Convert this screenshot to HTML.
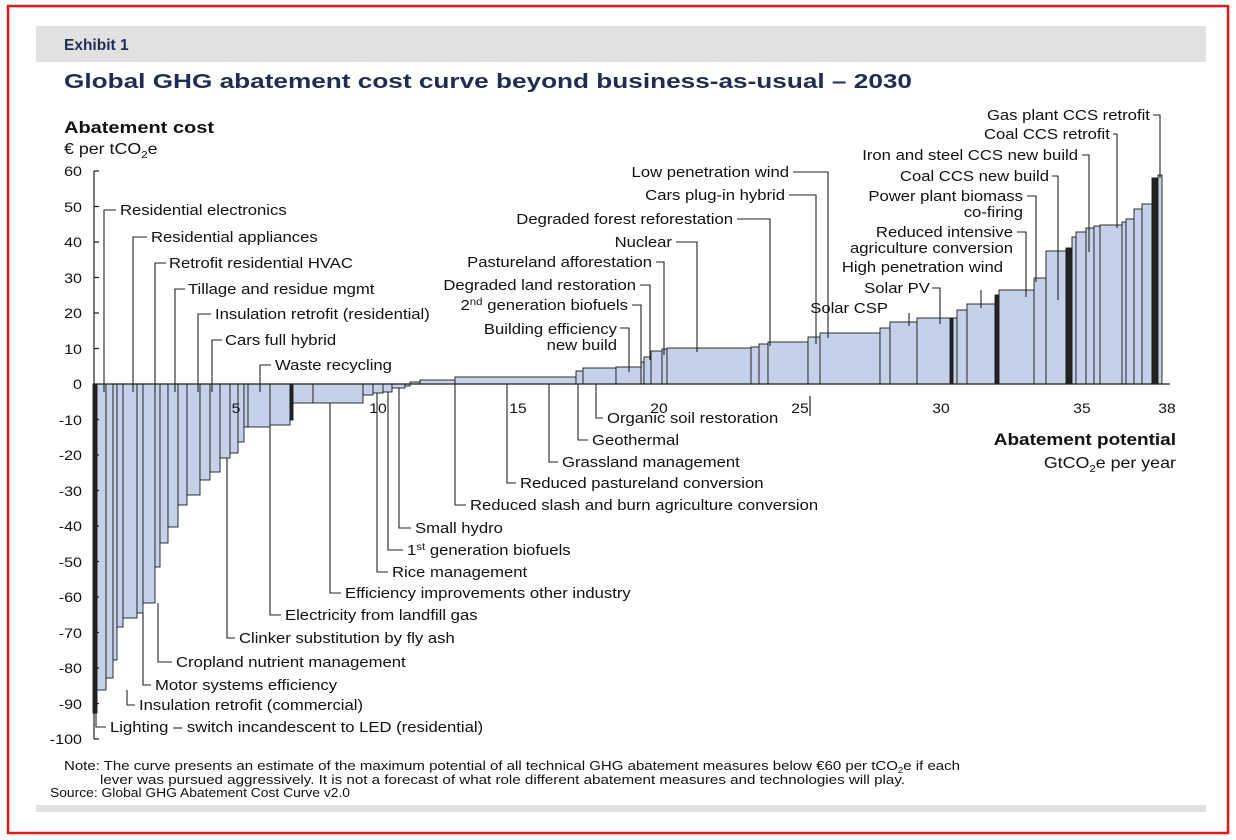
<!DOCTYPE html>
<html><head><meta charset="utf-8"><style>
html,body{margin:0;padding:0;background:#fff;}
svg{display:block;font-family:"Liberation Sans",Arial,sans-serif;}
.s text,text.s{transform-box:fill-box;transform-origin:0 50%;transform:scaleX(1.15);}
.e text,text.e{transform-box:fill-box;transform-origin:100% 50%;transform:scaleX(1.15);}
.m text{transform-box:fill-box;transform-origin:50% 50%;transform:scaleX(1.12);}
</style></head><body>
<svg width="1236" height="840" viewBox="0 0 1236 840" xmlns="http://www.w3.org/2000/svg">
<rect x="8" y="6" width="1220" height="827" fill="#fff" stroke="#d91c1c" stroke-width="2.5"/>
<rect x="36" y="26" width="1170" height="36" fill="#e1e1e1"/>
<text x="64" y="50" font-size="15.5" font-weight="bold" fill="#1f2d55">Exhibit 1</text>
<text x="64" y="88" font-size="20.5" font-weight="bold" fill="#1f2d55" textLength="848" lengthAdjust="spacingAndGlyphs">Global GHG abatement cost curve beyond business-as-usual – 2030</text>
<rect x="36" y="805" width="1170" height="7" fill="#e1e1e1"/>

<text x="64" y="133" font-size="16.5" font-weight="bold" fill="#111" textLength="150" lengthAdjust="spacingAndGlyphs">Abatement cost</text>
<text x="64" y="154" font-size="15.5" fill="#111" class="s">€ per tCO<tspan font-size="10" dy="4">2</tspan><tspan dy="-4">e</tspan></text>

<g fill="#c5d1e8" stroke="#1a1a1a" stroke-width="0.9">
<rect x="93" y="384" width="4" height="329" fill="#222"/>
<rect x="97" y="384" width="9" height="306"/>
<rect x="106" y="384" width="7" height="294"/>
<rect x="113" y="384" width="4" height="276"/>
<rect x="117" y="384" width="6" height="243"/>
<rect x="123" y="384" width="14" height="234"/>
<rect x="137" y="384" width="6" height="229"/>
<rect x="143" y="384" width="12" height="219"/>
<rect x="155" y="384" width="5" height="183"/>
<rect x="160" y="384" width="8" height="159"/>
<rect x="168" y="384" width="10" height="143"/>
<rect x="178" y="384" width="9" height="121"/>
<rect x="187" y="384" width="13" height="111"/>
<rect x="200" y="384" width="10" height="96"/>
<rect x="210" y="384" width="10" height="88"/>
<rect x="220" y="384" width="10" height="74"/>
<rect x="230" y="384" width="8" height="69"/>
<rect x="238" y="384" width="6" height="58"/>
<rect x="244" y="384" width="4" height="43"/>
<rect x="248" y="384" width="22" height="43"/>
<rect x="270" y="384" width="20" height="41"/>
<rect x="290" y="384" width="3" height="36" fill="#222"/>
<rect x="293" y="384" width="20" height="19"/>
<rect x="313" y="384" width="50" height="19"/>
<rect x="363" y="384" width="10" height="11"/>
<rect x="373" y="384" width="10" height="9"/>
<rect x="383" y="384" width="9" height="8"/>
<rect x="392" y="384" width="13" height="4"/>
<rect x="405" y="384" width="5" height="2"/>
<rect x="410" y="382" width="10" height="2"/>
<rect x="420" y="380" width="35" height="4"/>
<rect x="455" y="377" width="121" height="7"/>
<rect x="576" y="371" width="7" height="13"/>
<rect x="583" y="368" width="33" height="16"/>
<rect x="616" y="367" width="25" height="17"/>
<rect x="641" y="362" width="3" height="22"/>
<rect x="644" y="357" width="7" height="27"/>
<rect x="651" y="351" width="11" height="33"/>
<rect x="662" y="349" width="5" height="35"/>
<rect x="667" y="348" width="84" height="36"/>
<rect x="751" y="347" width="8" height="37"/>
<rect x="759" y="344" width="9" height="40"/>
<rect x="768" y="342" width="40" height="42"/>
<rect x="808" y="337" width="12" height="47"/>
<rect x="820" y="333" width="60" height="51"/>
<rect x="880" y="328" width="10" height="56"/>
<rect x="890" y="322" width="27" height="62"/>
<rect x="917" y="318" width="40" height="66"/>
<rect x="950" y="318" width="3" height="66" fill="#222"/>
<rect x="957" y="310" width="10" height="74"/>
<rect x="967" y="304" width="28" height="80"/>
<rect x="995" y="295" width="4" height="89" fill="#222"/>
<rect x="999" y="290" width="35" height="94"/>
<rect x="1034" y="278" width="12" height="106"/>
<rect x="1046" y="251" width="20" height="133"/>
<rect x="1066" y="248" width="6" height="136" fill="#222"/>
<rect x="1072" y="237" width="4" height="147"/>
<rect x="1076" y="232" width="10" height="152"/>
<rect x="1086" y="228" width="8" height="156"/>
<rect x="1094" y="226" width="6" height="158"/>
<rect x="1100" y="225" width="22" height="159"/>
<rect x="1122" y="222" width="4" height="162"/>
<rect x="1126" y="219" width="8" height="165"/>
<rect x="1134" y="209" width="8" height="175"/>
<rect x="1142" y="204" width="10" height="180"/>
<rect x="1152" y="178" width="6" height="206" fill="#222"/>
<rect x="1158" y="175" width="4" height="209"/>
</g>

<g stroke="#222" stroke-width="1.2" fill="none">
<line x1="94" y1="171" x2="94" y2="739"/>
<line x1="94" y1="384" x2="1170" y2="384"/>
<path d="M94 171h5M94 206.5h5M94 242h5M94 277.5h5M94 313h5M94 348.5h5M94 419.5h5M94 455h5M94 490.5h5M94 526h5M94 561.5h5M94 597h5M94 632.5h5M94 668h5M94 703.5h5M94 739h5"/>
<path d="M810 396v20"/>
</g>
<g font-size="14" fill="#111" text-anchor="end" class="e">
<text x="82" y="176">60</text><text x="82" y="212">50</text><text x="82" y="247">40</text>
<text x="82" y="283">30</text><text x="82" y="318">20</text><text x="82" y="354">10</text>
<text x="82" y="389">0</text><text x="82" y="425">-10</text><text x="82" y="460">-20</text>
<text x="82" y="496">-30</text><text x="82" y="531">-40</text><text x="82" y="567">-50</text>
<text x="82" y="602">-60</text><text x="82" y="638">-70</text><text x="82" y="673">-80</text>
<text x="82" y="709">-90</text><text x="82" y="744">-100</text>
</g>
<g font-size="14" fill="#111" text-anchor="middle" class="m">
<text x="236" y="413">5</text><text x="378" y="413">10</text><text x="518" y="413">15</text>
<text x="659" y="413">20</text><text x="800" y="413">25</text><text x="941" y="413">30</text>
<text x="1082" y="413">35</text><text x="1167" y="413">38</text>
</g>
<text x="1176" y="445" font-size="16.5" font-weight="bold" fill="#111" text-anchor="end" class="e">Abatement potential</text>
<text x="1176" y="468" font-size="15.5" fill="#111" text-anchor="end" class="e">GtCO<tspan font-size="10" dy="4">2</tspan><tspan dy="-4">e per year</tspan></text>

<g stroke="#222" stroke-width="1.1" fill="none">
<path d="M116 210H104V392"/>
<path d="M147 237H133V392"/>
<path d="M166 263H155V392"/>
<path d="M185 289H175V392"/>
<path d="M211 314H198V392"/>
<path d="M222 340H212V392"/>
<path d="M271 365H260V392"/>
<path d="M106 727H96V713"/>
<path d="M135 705H127V690"/>
<path d="M151 685H143V613"/>
<path d="M172 662H158V603"/>
<path d="M235 638H227V458"/>
<path d="M281 615H270V427"/>
<path d="M341 593H330V403"/>
<path d="M388 572H377V393"/>
<path d="M403 550H388V392"/>
<path d="M411 528H399V388"/>
<path d="M466 505H455V384"/>
<path d="M516 483H507V384"/>
<path d="M558 462H549V384"/>
<path d="M588 440H578V384"/>
<path d="M603 418H596V384"/>
<path d="M620 328H629V372"/>
<path d="M632 305H641V368"/>
<path d="M640 285H650V360"/>
<path d="M656 262H664V355"/>
<path d="M676 242H697V352"/>
<path d="M737 219H770V346"/>
<path d="M789 195H816V344"/>
<path d="M793 172H828V338"/>
<path d="M909 313V326"/>
<path d="M932 288H940V324"/>
<path d="M981 290V308"/>
<path d="M1017 232H1026V297"/>
<path d="M1027 196H1036V282"/>
<path d="M1052 176H1058V300"/>
<path d="M1082 155H1089V252"/>
<path d="M1113 134H1117V228"/>
<path d="M1153 115H1160V178"/>
</g>
<g font-size="14.5" fill="#111" class="s">
<text x="120" y="215">Residential electronics</text>
<text x="151" y="242">Residential appliances</text>
<text x="169" y="268">Retrofit residential HVAC</text>
<text x="188" y="294">Tillage and residue mgmt</text>
<text x="215" y="319">Insulation retrofit (residential)</text>
<text x="225" y="345">Cars full hybrid</text>
<text x="275" y="370">Waste recycling</text>
<text x="110" y="732">Lighting – switch incandescent to LED (residential)</text>
<text x="139" y="710">Insulation retrofit (commercial)</text>
<text x="155" y="690">Motor systems efficiency</text>
<text x="176" y="667">Cropland nutrient management</text>
<text x="239" y="643">Clinker substitution by fly ash</text>
<text x="285" y="620">Electricity from landfill gas</text>
<text x="345" y="598">Efficiency improvements other industry</text>
<text x="392" y="577">Rice management</text>
<text x="407" y="555">1<tspan font-size="10" dy="-5">st</tspan><tspan dy="5"> generation biofuels</tspan></text>
<text x="415" y="533">Small hydro</text>
<text x="470" y="510">Reduced slash and burn agriculture conversion</text>
<text x="520" y="488">Reduced pastureland conversion</text>
<text x="562" y="467">Grassland management</text>
<text x="592" y="445">Geothermal</text>
<text x="607" y="423">Organic soil restoration</text>
</g>
<g font-size="14.5" fill="#111" text-anchor="end" class="e">
<text x="617" y="334">Building efficiency</text>
<text x="617" y="350">new build</text>
<text x="628" y="310">2<tspan font-size="10" dy="-5">nd</tspan><tspan dy="5"> generation biofuels</tspan></text>
<text x="636" y="290">Degraded land restoration</text>
<text x="652" y="267">Pastureland afforestation</text>
<text x="672" y="247">Nuclear</text>
<text x="733" y="224">Degraded forest reforestation</text>
<text x="785" y="200">Cars plug-in hybrid</text>
<text x="789" y="177">Low penetration wind</text>
<text x="888" y="313">Solar CSP</text>
<text x="930" y="293">Solar PV</text>
<text x="1003" y="272">High penetration wind</text>
<text x="1013" y="237">Reduced intensive</text>
<text x="1013" y="253">agriculture conversion</text>
<text x="1023" y="201">Power plant biomass</text>
<text x="1023" y="217">co-firing</text>
<text x="1049" y="181">Coal CCS new build</text>
<text x="1078" y="160">Iron and steel CCS new build</text>
<text x="1110" y="139">Coal CCS retrofit</text>
<text x="1150" y="120">Gas plant CCS retrofit</text>
</g>

<g font-size="12.5" fill="#111">
<text x="64" y="770" textLength="896" lengthAdjust="spacingAndGlyphs">Note: The curve presents an estimate of the maximum potential of all technical GHG abatement measures below €60 per tCO<tspan font-size="8" dy="3">2</tspan><tspan dy="-3">e if each</tspan></text>
<text x="100" y="784" textLength="805" lengthAdjust="spacingAndGlyphs">lever was pursued aggressively. It is not a forecast of what role different abatement measures and technologies will play.</text>
<text x="50" y="797" textLength="300" lengthAdjust="spacingAndGlyphs">Source: Global GHG Abatement Cost Curve v2.0</text>
</g>
</svg>
</body></html>
